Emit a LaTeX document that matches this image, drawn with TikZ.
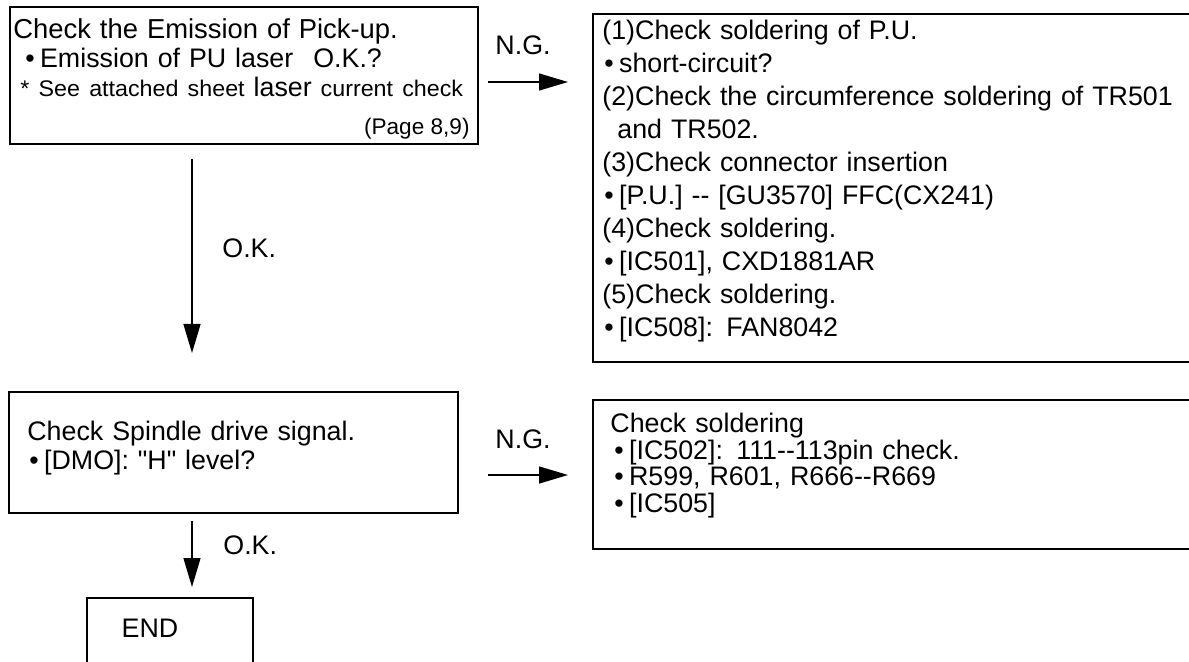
\documentclass[tikz,border=0pt]{standalone}
\usepackage{fontspec}
\usepackage{graphicx}
\setmainfont{Liberation Sans}[Ligatures=TeXOff]
\usetikzlibrary{arrows.meta}
\newcommand{\notesize}{\fontsize{11.3}{14}\selectfont}
\newcommand{\note}[1]{\scalebox{1.03}[1]{\notesize #1}}
\newcommand{\bul}{\textbullet\hspace{0.2em}}
\tikzset{
  box/.style={draw, line width=0.9pt, inner sep=0pt, anchor=north west},
  txt/.style={inner sep=0pt, anchor=base west, align=left, font=\fontsize{13.4}{#1}\selectfont},
  txt/.default=16.5pt,
  tag/.style={inner sep=0pt, font=\fontsize{13.4}{16}\selectfont},
  flow/.style={line width=0.7pt, -{Triangle[length=14.5pt,width=8.5pt]}}
}

\begin{document}
\begin{tikzpicture}[x=0.5pt, y=-0.5pt]
        \useasboundingbox (0,0) rectangle (1189,662);

        % left column
        \node[box, minimum width=234pt, minimum height=68.5pt] (emit) at (9,6) {};
        \node[txt=14.5pt, text width=250pt] (emit-t) at (13,39) {{\fontsize{13.7}{14.5}\selectfont Check the Emission of Pick-up.}\\
          \hspace*{6pt}\bul Emission of PU laser\hspace{0.75em}O.K.?\\
          \hspace*{3.5pt}\note{* See attached sheet} laser \note{current check}};
        \node[tag, anchor=base east, font=\notesize] (emit-p) at (470,135) {(Page 8,9)};

        \node[box, minimum width=224.5pt, minimum height=60.5pt] (spindle) at (8,391) {};
        \node[txt=14.5pt, text width=200pt] (spindle-t) at (27,441) {Check Spindle drive signal.\\
          \hspace*{1pt}\bul [DMO]: "H" level?};

        \node[box, minimum width=83pt, minimum height=51.5pt] (fin) at (86,597) {};
        \node[tag] (fin-t) at (150,628) {END};

        % right column
        \node[box, minimum width=309pt, minimum height=174pt] (pucheck) at (592,13) {};
        \node[txt=16.5pt, text width=300pt] (pucheck-t) at (602,40) {(1)Check soldering of P.U.\\
          \hspace*{1pt}\bul short-circuit?\\
          (2)Check the circumference soldering of TR501\\
          \hspace*{7.5pt}and TR502.\\
          (3)Check connector insertion\\
          \hspace*{1pt}\bul [P.U.] -- [GU3570] FFC(CX241)\\
          (4)Check soldering.\\
          \hspace*{1pt}\bul [IC501], CXD1881AR\\
          (5)Check soldering.\\
          \hspace*{1pt}\bul [IC508]: FAN8042};

        \node[box, minimum width=309pt, minimum height=74.5pt] (solder) at (592,399) {};
        \node[txt=13.25pt, text width=280pt] (solder-t) at (610,433) {Check soldering\\
          \hspace*{2pt}\bul [IC502]: 111--113pin check.\\
          \hspace*{2pt}\bul R599, R601, R666--R669\\
          \hspace*{2pt}\bul [IC505]};

        % labels
        \node[tag] (ng-a) at (523,45) {N.G.};
        \node[tag] (ng-b) at (523,439) {N.G.};
        \node[tag, anchor=west] (ok-a) at (222,248) {O.K.};
        \node[tag, anchor=west] (ok-b) at (223,545) {O.K.};

        % arrows
        \draw[flow, shorten <=4.5pt, shorten >=12pt] (emit.east |- 0,82) -- (pucheck.west |- 0,82);
        \draw[flow, shorten <=14.5pt, shorten >=12pt] (spindle.east |- 0,475) -- (solder.west |- 0,475);
        \draw[flow, shorten <=7pt, shorten >=19pt] (emit.south -| 192,0) -- (spindle.north -| 192,0);
        \draw[flow, shorten <=3.5pt, shorten >=5pt] (spindle.south -| 192,0) -- (fin.north -| 192,0);
    \end{tikzpicture}
\end{document}
